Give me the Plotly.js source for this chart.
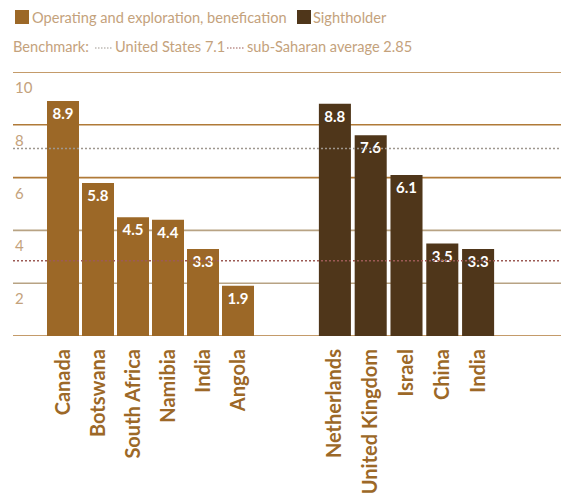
<!DOCTYPE html>
<html><head><meta charset="utf-8">
<script src="https://cdn.plot.ly/plotly-3.0.1.min.js"></script>
<style>html,body{margin:0;padding:0;background:#fff;}#chart{width:565px;height:496px;}</style>
</head><body><div id="chart"></div>
<script>
const cats1 = ['Canada','Botswana','South Africa','Namibia','India','Angola'];
const vals1 = [8.9, 5.8, 4.5, 4.4, 3.3, 1.9];
const cats2 = ['Netherlands','United Kingdom','Israel','China','India'];
const vals2 = [8.8, 7.6, 6.1, 3.5, 3.3];
const gridVals = [0, 2, 4, 6, 8, 10];
const tickVals = [2, 4, 6, 8, 10];
const tickText = ['2', '4', '6', '8', '10'];
const seriesNames = ['Operating and exploration, benefication', 'Sightholder'];
const benchNames = ['United States 7.1', 'sub-Saharan average 2.85'];
const benchVals = [7.1, 2.85];

const W = 565, H = 496, ML = 13, MR = 4, MT = 72, MB = 160;
const PW = W - ML - MR, PH = H - MT - MB;
const px = x => (x - ML) / PW;
const py = y => (H - MB - y) / PH;

const c1 = '#9c6827', c2 = '#4f361a';
const textCol = '#c4a27c';
const FONT = 'Lato, "Open Sans", sans-serif';

const traces = [
  {type:'bar', x:cats1, y:vals1, xaxis:'x', yaxis:'y', marker:{color:c1}, width:32/35,
   texttemplate:'%{y:.1f}', textposition:'inside', insidetextanchor:'end', textangle:0,
   insidetextfont:{color:'#ffffff', size:15, family:FONT, weight:'bold'}, showlegend:false, hoverinfo:'none', name:seriesNames[0]},
  {type:'bar', x:cats2, y:vals2, xaxis:'x2', yaxis:'y', marker:{color:c2}, width:32/35.75,
   texttemplate:'%{y:.1f}', textposition:'inside', insidetextanchor:'end', textangle:0,
   insidetextfont:{color:'#ffffff', size:15, family:FONT, weight:'bold'}, showlegend:false, hoverinfo:'none', name:seriesNames[1]}
];

const shapes = [];
gridVals.forEach(v => {
  const strong = (v === 0 || v >= 6);
  shapes.push({type:'line', xref:'paper', yref:'y', x0:0, x1:1, y0:v, y1:v,
    line:{color: strong ? '#b07a38' : '#b8a384', width:1.6}, layer:'below'});
});
const benchCols = ['#9e978f', '#9c5a55'];
benchVals.forEach((v,i) => {
  shapes.push({type:'line', xref:'paper', yref:'y', x0:0, x1:1, y0:v, y1:v,
    line:{color:benchCols[i], width:1.5, dash:'2px,2px'}, layer:'above'});
});
// legend patches
shapes.push({type:'rect', xref:'paper', yref:'paper', x0:px(15), x1:px(29), y0:py(24), y1:py(10), fillcolor:c1, line:{width:0}});
shapes.push({type:'rect', xref:'paper', yref:'paper', x0:px(297), x1:px(311), y0:py(24), y1:py(10), fillcolor:c2, line:{width:0}});
shapes.push({type:'line', xref:'paper', yref:'paper', x0:px(95), x1:px(113), y0:py(48), y1:py(48), line:{color:benchCols[0], width:1.2, dash:'1.5px,1.5px'}});
shapes.push({type:'line', xref:'paper', yref:'paper', x0:px(227), x1:px(245), y0:py(48), y1:py(48), line:{color:benchCols[1], width:1.2, dash:'1.5px,1.5px'}});

const annotations = [];
tickVals.forEach((v,i) => {
  annotations.push({xref:'paper', yref:'y', x:0, y:v, yshift:-15, xanchor:'left', yanchor:'middle',
    text:tickText[i], showarrow:false, font:{family:FONT, size:15, color:textCol}});
});
const leg = (x, y, t) => annotations.push({xref:'paper', yref:'paper', x:px(x), y:py(y), xanchor:'left', yanchor:'middle',
  text:t, showarrow:false, font:{family:FONT, size:14.6, color:textCol}});
leg(30, 17, seriesNames[0]);
leg(311, 17, seriesNames[1]);
leg(11, 47, 'Benchmark:');
leg(113, 47, benchNames[0]);
leg(245, 47, benchNames[1]);

const xa = {type:'category', showgrid:false, zeroline:false, showline:false, ticks:'', tickangle:-90,
  tickfont:{family:FONT, size:20, color:'#9c6827', weight:'bold'}, ticklabelstandoff:8, fixedrange:true};

const layout = {
  width:W, height:H, margin:{l:ML, r:MR, t:MT, b:MB},
  paper_bgcolor:'#ffffff', plot_bgcolor:'#ffffff',
  showlegend:false,
  xaxis:Object.assign({}, xa, {domain:[px(45.5), px(255.5)], anchor:'y'}),
  xaxis2:Object.assign({}, xa, {domain:[px(317), px(496)], anchor:'y'}),
  yaxis:{range:[0,10], showgrid:false, zeroline:false, showticklabels:false, ticks:'', showline:false, fixedrange:true},
  shapes, annotations, font:{family:FONT}
};
Plotly.newPlot('chart', traces, layout, {displayModeBar:false, staticPlot:true});
</script></body></html>
